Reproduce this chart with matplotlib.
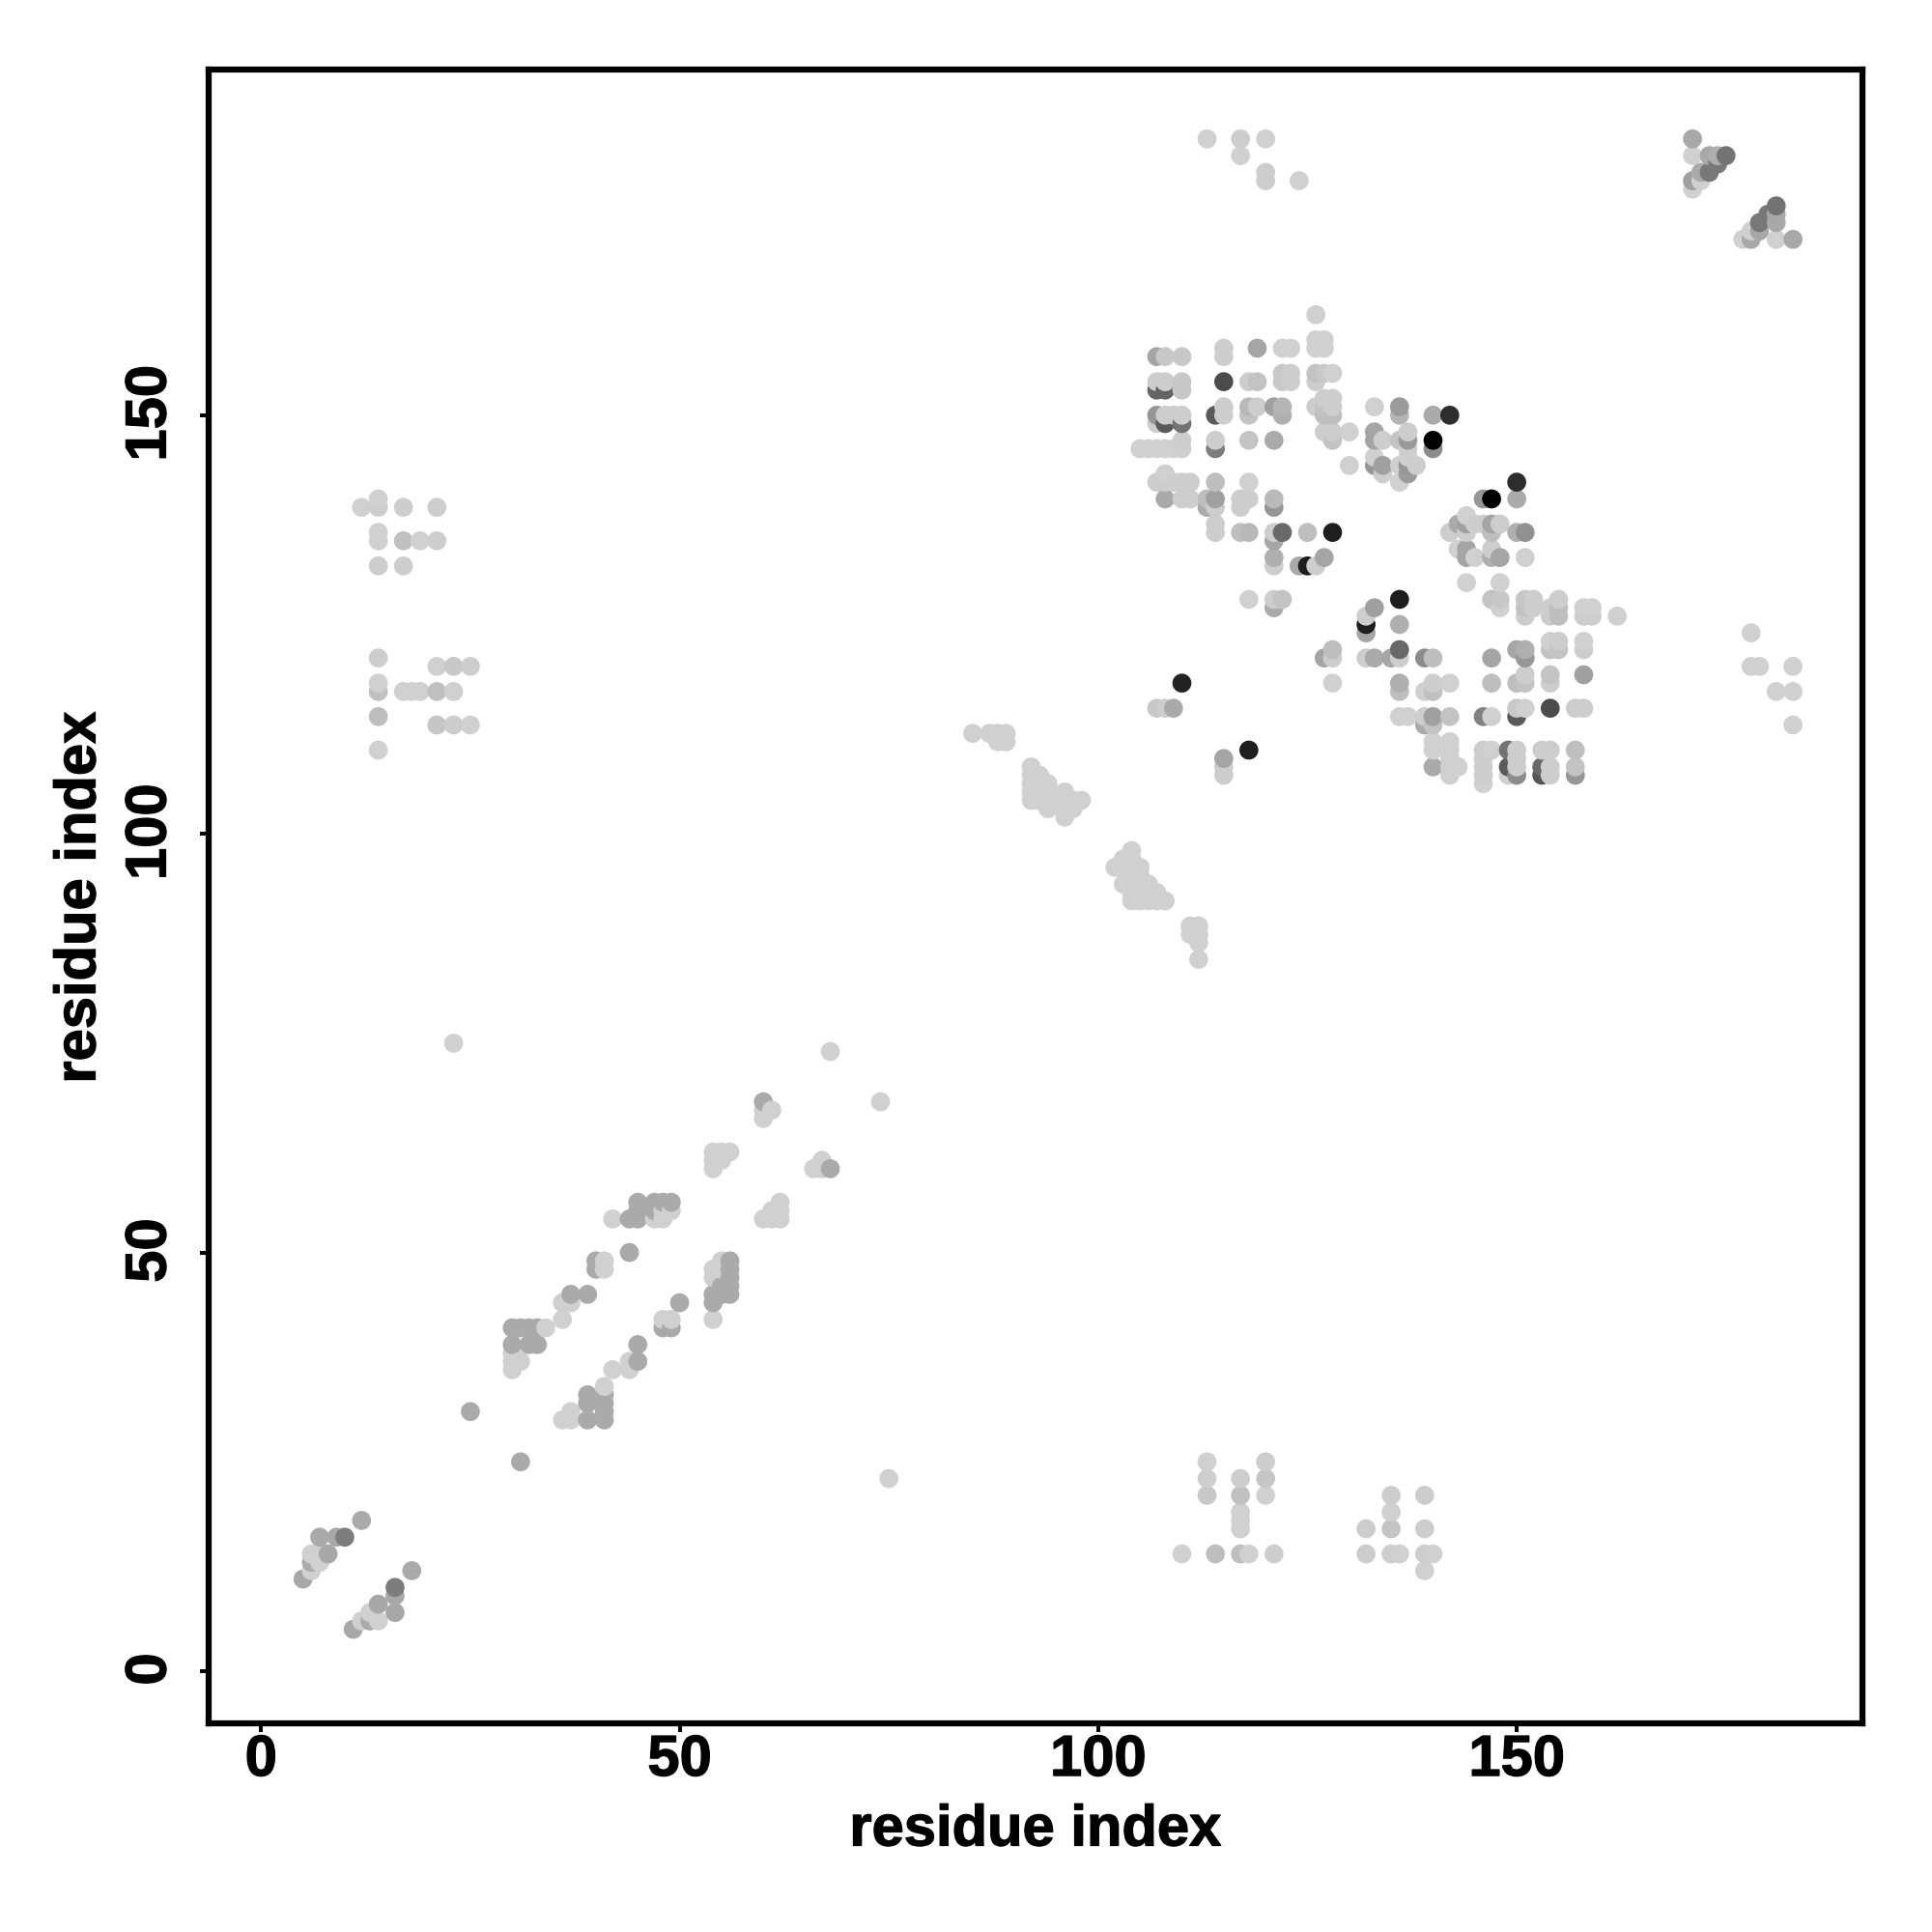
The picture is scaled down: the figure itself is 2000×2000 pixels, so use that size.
import matplotlib
matplotlib.use("Agg")
import matplotlib.pyplot as plt
import matplotlib.patheffects as pe
from matplotlib.transforms import ScaledTranslation
import numpy as np

# (residue i, residue j, grey level 0-255)
contacts_corner_low = [
    (12,18,170),(7,16,170),(9,16,168),(10,16,125),(6,14,208),(7,14,208),(8,14,168),
    (6,13,170),(7,13,208),(6,12,208),(5,11,168),(18,12,170),(16,10,125),(16,9,168),(16,7,168),
    (14,8,168),(13,7,208),(12,6,208),(13,6,170),(14,6,208),(11,5,168),
]
contacts_diag_low = [
    (25,31,170),(31,25,170),(30,41,170),(31,41,170),(32,41,170),(33,41,170),(34,41,208),
    (30,39,170),(32,39,170),(33,39,170),(30,37,208),(31,37,208),(30,36,208),(30,38,208),
    (36,42,208),(36,44,208),(37,44,208),(37,45,170),(39,45,170),
    (40,49,170),(40,48,170),(41,49,208),(41,48,208),(44,50,170),
    (42,54,208),(44,54,170),(45,54,170),(45,55,170),(45,56,170),(47,56,170),(48,56,170),(49,56,170),
    (47,55,170),(47,54,208),(48,54,208),(48,55,208),(49,55,208),
    (54,62,208),(54,61,208),(54,60,208),(55,62,208),(56,62,208),(55,61,208),
    (66,60,208),(67,61,208),(67,60,208),(68,60,170),
    (60,68,170),(60,67,208),(60,66,208),(61,67,208),
    (60,54,208),(61,55,208),(61,54,208),(62,56,208),(62,55,208),(62,54,208),
    (74,68,208),(68,74,208),(23,75,208),(75,23,208),
    (56,49,170),(56,48,170),(56,47,170),(56,46,170),(54,48,208),(54,47,208),(55,49,208),(55,48,208),
    (55,46,170),(54,45,170),(55,45,170),(56,45,170),(54,44,170),(54,42,208),
    (50,44,170),(48,42,208),(49,42,208),(48,41,170),(49,41,170),
    (45,39,170),(45,37,170),(44,37,208),(44,36,208),(42,36,208),(41,34,208),
    (39,33,170),(39,32,170),(39,30,170),(41,33,170),(41,32,170),(41,31,170),(41,30,170),
    (37,31,208),(36,30,208),(37,30,208),
]
contacts_diag_mid = [
    (85,112,208),(87,112,208),(88,112,208),(89,112,208),(88,111,208),(89,111,208),
    (92,108,208),(92,107,208),(92,106,208),(92,105,208),(92,104,208),(93,107,208),(93,106,208),
    (93,105,208),(93,104,208),(94,106,208),(94,105,208),(94,104,208),(94,103,208),(95,104,208),
    (96,105,208),(96,104,208),(96,103,208),(96,102,208),(97,104,208),(97,103,208),(98,104,208),
    (104,98,208),(103,97,208),(104,97,208),(102,96,208),(103,96,208),(104,96,208),(105,96,208),
    (103,94,208),(104,95,208),(105,95,208),(104,94,208),(105,94,208),(106,94,208),
    (104,93,208),(105,93,208),(106,93,208),(107,93,208),
    (104,92,208),(105,92,208),(106,92,208),(107,92,208),(108,92,208),
    (111,89,208),(112,89,208),(111,88,208),(112,88,208),(112,87,208),(112,85,208),
]
contacts_bottom_right = [
    (113,25,208),(113,23,206),(113,21,200),(117,23,205),(117,21,192),(117,19,208),(117,18,208),(117,17,208),
    (120,25,205),(120,23,198),(120,21,208),(110,14,208),(114,14,190),(117,14,190),(118,14,208),(121,14,205),
    (135,21,205),(135,19,208),(135,17,196),(132,17,205),(139,21,205),(139,17,205),
    (132,14,205),(135,14,205),(136,14,208),(139,14,205),(140,14,208),(139,12,208),
]
contacts_left_block = [
    (12,139,208),(14,140,208),(14,139,205),(17,139,205),(21,139,205),(14,136,208),(14,135,208),
    (17,135,192),(19,135,208),(21,135,205),(14,132,205),(17,132,205),
    (14,121,205),(21,120,208),(23,120,200),(25,120,205),(14,118,208),(14,117,192),
    (17,117,208),(18,117,208),(19,117,208),(21,117,192),(23,117,208),
    (14,114,190),(21,113,198),(23,113,205),(25,113,208),(14,110,208),
]
contacts_top_mid = [
    (113,183,208),(117,183,205),(120,183,208),(117,181,208),(120,179,205),(120,178,205),(124,178,208),
]
contacts_top_right = [
    (171,183,168),(171,181,208),(173,181,168),(174,181,175),(175,181,115),(174,180,120),
    (173,179,120),(172,179,170),(171,178,160),(172,178,208),(171,177,208),
    (181,175,115),(180,174,120),(179,173,120),(181,174,168),(181,173,168),(179,172,168),
    (178,172,208),(178,171,168),(177,171,208),(181,171,208),(183,171,168),
]
contacts_right_far = [
    (178,124,208),(178,120,208),(179,120,208),(183,120,208),(181,117,208),(183,117,208),(183,113,208),
]
contacts_cluster_a = [
    (126,162,208),(126,159,208),(127,159,208),(126,158,208),(127,158,208),
    (115,158,205),(119,158,165),(122,158,208),(123,158,208),
    (107,157,165),(108,157,200),(110,157,200),(115,157,205),
    (122,155,200),(123,155,205),(126,155,195),(127,155,200),(128,155,208),
    (107,154,205),(108,154,205),(110,154,200),(115,154,75),(118,154,205),(119,154,195),
    (122,154,200),(123,154,205),(126,154,205),
    (107,153,100),(108,153,100),(110,153,200),(127,152,205),(128,152,205),
    (115,151,205),(118,151,185),(119,151,205),(121,151,160),(122,151,180),(126,151,205),
    (127,151,195),(128,151,205),(133,151,208),(136,151,155),
    (107,150,150),(108,150,205),(109,150,205),(110,150,205),(114,150,90),(115,150,205),
    (118,150,195),(122,150,175),(127,150,190),(128,150,190),(136,150,180),(140,150,170),(142,150,45),
    (107,149,205),(108,149,90),(110,149,115),
    (127,148,205),(128,148,205),(130,148,208),(133,148,165),(137,148,205),
    (110,147,205),(114,147,205),(118,147,195),(121,147,170),(128,147,195),(133,147,165),
    (134,147,205),(136,147,195),(137,147,155),(140,147,0),
    (105,146,208),(106,146,208),(107,146,208),(108,146,208),(109,146,208),(110,146,208),
    (114,146,125),(137,146,205),(140,146,140),(133,145,208),(137,145,208),
    (130,144,208),(133,144,150),(134,144,160),(136,144,208),(137,144,150),(138,144,205),
    (134,143,205),(137,143,155),(108,143,208),(136,142,208),
    (107,142,205),(108,142,205),(109,142,205),(110,142,205),(111,142,205),(114,142,190),(118,142,208),
    (108,140,170),(110,140,205),(111,140,205),(113,140,190),(114,140,160),(117,140,205),(118,140,205),(121,140,185),
    (113,139,170),(114,139,205),(117,139,205),(121,139,150),
    (114,137,205),(114,136,205),(117,136,190),(118,136,185),(121,136,205),(122,136,105),(125,136,190),(128,136,30),
    (121,135,165),(121,133,175),(121,132,205),(127,133,165),(124,132,170),(125,132,30),(126,132,205),
    (118,128,208),(121,128,205),(122,128,195),(121,127,170),
]
contacts_cluster_b = [
    (150,142,45),(146,140,150),(147,140,0),(150,140,170),(144,138,208),
    (143,137,170),(144,137,160),(145,137,205),(146,137,205),(147,137,165),(148,137,205),
    (142,136,205),(144,136,205),(147,136,190),(150,136,175),(151,136,145),
    (143,134,208),(144,134,165),(147,134,205),(144,133,165),(145,133,208),(147,133,175),(148,133,165),(151,133,208),
    (144,130,208),(148,130,208),
]
contacts_cluster_c = [
    (136,128,30),(133,127,160),(132,126,205),(132,125,30),(136,125,175),(132,124,165),
    (128,122,190),(136,122,105),(127,121,165),(128,121,205),(132,121,205),(133,121,170),(135,121,165),(136,121,205),
    (139,121,140),(140,121,190),(128,118,208),(136,118,175),(140,118,205),(142,118,208),
    (136,117,190),(139,117,208),(140,117,192),
    (107,115,200),(108,115,205),(109,115,170),(136,114,208),(137,114,208),(139,114,205),(140,114,160),(142,114,195),
    (139,113,170),(140,113,195),(115,109,165),(115,108,205),(115,107,205),(118,110,30),(110,118,35),
]
contacts_cluster_d = [
    (147,128,195),(148,128,200),(148,127,208),(151,128,198),(151,127,195),(151,126,205),(152,128,205),(152,127,205),
    (154,127,205),(154,126,205),(155,128,205),(155,127,190),(155,126,190),
    (158,127,208),(159,127,208),(158,126,205),(159,126,205),(162,126,208),
    (150,122,165),(151,122,175),(154,123,208),(155,123,205),(154,122,195),(155,122,195),(158,123,208),(158,122,205),
    (147,121,165),(151,121,150),(150,118,190),(151,118,195),(151,119,205),(147,118,190),(154,119,195),(154,118,205),
    (158,119,160),(150,115,200),(151,115,208),(154,115,75),(157,115,205),(158,115,205),
    (146,114,130),(147,114,208),(150,114,90),
    (140,111,208),(142,111,208),(140,110,208),(142,110,208),(140,108,170),(142,109,208),(142,108,208),(143,108,208),(142,107,208),
    (146,110,205),(147,110,208),(146,109,205),(146,108,205),(146,107,205),(146,106,208),
    (149,110,115),(150,110,205),(149,108,90),(150,109,205),(150,108,205),(149,107,208),(150,107,140),
    (153,110,205),(154,110,205),(153,108,105),(153,107,85),(154,108,205),(154,107,205),
    (157,110,190),(157,108,195),(157,107,150),
]
x_ticks = [0, 50, 100, 150]
y_ticks = [0, 50, 100, 150]
x_label = "residue index"
y_label = "residue index"

all_contacts = (contacts_corner_low + contacts_diag_low + contacts_diag_mid + contacts_bottom_right
                + contacts_left_block + contacts_top_mid + contacts_top_right + contacts_right_far
                + contacts_cluster_a + contacts_cluster_b + contacts_cluster_c + contacts_cluster_d)
arr = np.array(all_contacts, dtype=float)
order = np.lexsort((arr[:, 1], arr[:, 0]))
arr = arr[order]

plt.rcParams['font.family'] = ['Liberation Sans', 'DejaVu Sans']
plt.rcParams['font.weight'] = 'bold'
heavy = [pe.withStroke(linewidth=0.9, foreground='black')]

fig = plt.figure(figsize=(20, 20), dpi=100)
ax = fig.add_axes([215.7/2000, (2000-1783.7)/2000, (1928-215.7)/2000, (1783.7-72)/2000])
ax.scatter(arr[:, 0], arr[:, 1], s=200, c=np.repeat(arr[:, 2:3]/255.0, 3, axis=1), linewidths=0, zorder=2)
ax.set_xlim(-6.3, 191.3)
ax.set_ylim(-6.2, 191.28)
ax.set_xticks(x_ticks)
ax.set_yticks(y_ticks)
ax.tick_params(axis='both', length=6.2, width=2.9, labelsize=43, color='black')
ax.tick_params(axis='x', pad=2)
ax.tick_params(axis='y', pad=17)
up = ScaledTranslation(0, 2/100, fig.dpi_scale_trans)
for t in ax.get_yticklabels():
    t.set_rotation(90)
    t.set_va('center')
    t.set_transform(t.get_transform() + up)
    t.set_path_effects(heavy)
for t in ax.get_xticklabels():
    t.set_path_effects(heavy)
for s in ax.spines.values():
    s.set_linewidth(4.5)
fig.text(1072/2000, 1-1895/2000, x_label, ha='center', va='center', fontsize=43, fontweight='bold', path_effects=heavy)
fig.text(83/2000, 1-929/2000, y_label, ha='center', va='center', rotation=90, fontsize=43, fontweight='bold', path_effects=heavy)
fig.savefig('out.png', dpi=100, facecolor='white')
